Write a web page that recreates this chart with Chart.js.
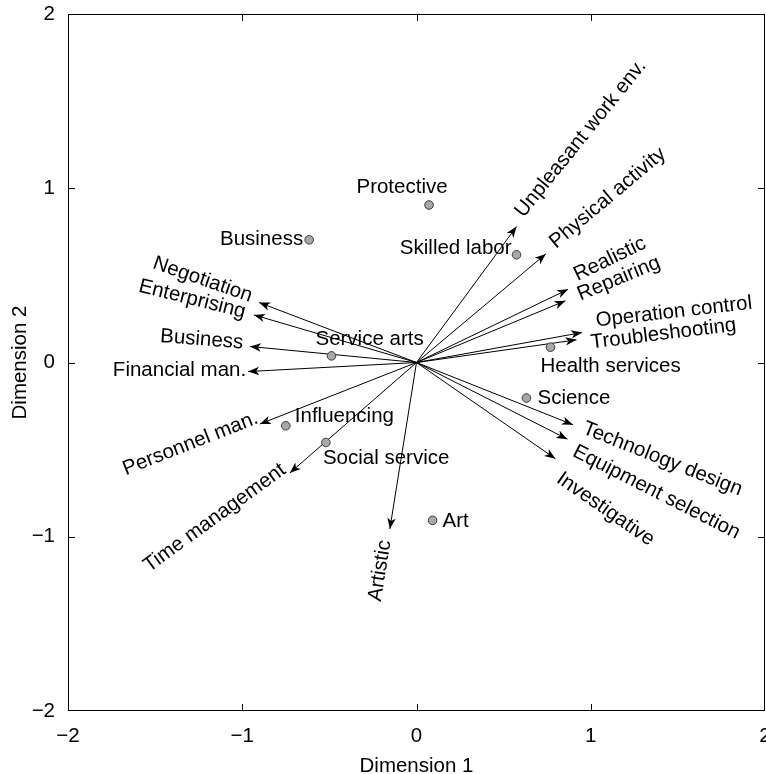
<!DOCTYPE html>
<html>
<head>
<meta charset="utf-8">
<script src="https://cdn.jsdelivr.net/npm/chart.js@4.4.1/dist/chart.umd.min.js"></script>
<style>
  html, body { margin: 0; padding: 0; background: #fff; }
</style>
</head>
<body>
<canvas id="chart-biplot" width="766" height="774"></canvas>
<script>
// variable vectors (arrow tips, origin at 0,0)
const vectorNames = [
  'Unpleasant work env.', 'Physical activity', 'Realistic', 'Repairing',
  'Operation control', 'Troubleshooting', 'Technology design', 'Equipment selection',
  'Investigative', 'Artistic', 'Time management', 'Personnel man.',
  'Financial man.', 'Business', 'Enterprising', 'Negotiation'
];
const vectorX = [0.574, 0.742, 0.870, 0.855, 0.950, 0.918, 0.898, 0.866, 0.797, -0.153, -0.727, -0.899, -0.966, -0.956, -0.933, -0.903];
const vectorY = [0.780, 0.623, 0.420, 0.354, 0.172, 0.130, -0.357, -0.440, -0.552, -0.955, -0.634, -0.353, -0.052, 0.092, 0.273, 0.344];

// occupation groups (grey points)
const pointNames = ['Protective', 'Business', 'Skilled labor', 'Service arts', 'Health services', 'Science', 'Influencing', 'Social service', 'Art'];
const pointX = [0.072, -0.616, 0.574, -0.488, 0.769, 0.631, -0.750, -0.520, 0.092];
const pointY = [0.904, 0.704, 0.618, 0.038, 0.088, -0.204, -0.363, -0.459, -0.906];

const xTickLabels = ['\u22122', '\u22121', '0', '1', '2'];
const yTickLabels = ['\u22122', '\u22121', '0', '1', '2'];

/* ================= layout of the text ================= */

const FONT = 'Liberation Sans, Arial, Helvetica, sans-serif';
const FONT_SIZE = 20.5;

// where each point label sits, in pixels from its point
const pointLabelPos = [
  { dx: -27, dy: -18, align: 'center' },
  { dx: -6, dy: 0, align: 'right' },
  { dx: -5, dy: -6, align: 'right' },
  { dx: -16, dy: -17, align: 'left' },
  { dx: -10, dy: 19, align: 'left' },
  { dx: 11, dy: 0, align: 'left' },
  { dx: 9, dy: -9, align: 'left' },
  { dx: -3, dy: 16, align: 'left' },
  { dx: 10, dy: 1, align: 'left' }
];

// arrow labels: [gap past the tip, sideways shift] in pixels
const vectorLabelPlace = {
  'Unpleasant work env.': [11, -5],
  'Physical activity': [11, -3],
  'Realistic': [12, -9],
  'Repairing': [14, 0],
  'Operation control': [15, -9],
  'Troubleshooting': [14, 5],
  'Technology design': [11, -1],
  'Equipment selection': [11, 7],
  'Investigative': [13, 13],
  'Artistic': [12, -3],
  'Time management': [2, -8],
  'Personnel man.': [0, -7],
  'Financial man.': [2, -1],
  'Business': [7, -3],
  'Enterprising': [9, 0],
  'Negotiation': [9, -3]
};

// labels whose slant differs from their arrow (degrees, reading direction)
const vectorLabelAngle = {
  'Unpleasant work env.': 51,
  'Operation control': 6.5,
  'Troubleshooting': 7,
  'Time management': 36,
  'Financial man.': 0,
  'Business': -4.5,
  'Enterprising': -14,
  'Negotiation': -19
};

/* ================= plugin: arrows, labels, frame ================= */

const biplotDecor = {
  id: 'biplotDecor',
  afterDatasetsDraw(chart) {
    const { ctx, scales: { x, y } } = chart;
    const ox = x.getPixelForValue(0);
    const oy = y.getPixelForValue(0);

    ctx.save();
    ctx.fillStyle = '#000';
    ctx.font = FONT_SIZE + 'px ' + FONT;

    vectorNames.forEach((name, i) => {
      let tx = x.getPixelForValue(vectorX[i]);
      let ty = y.getPixelForValue(vectorY[i]);
      let len = Math.hypot(tx - ox, ty - oy);
      let ux = (tx - ox) / len, uy = (ty - oy) / len;

      // arrow head
      let L = 11, W = 4.2, N = 8;
      ctx.beginPath();
      ctx.moveTo(tx, ty);
      ctx.lineTo(tx - L * ux - W * uy, ty - L * uy + W * ux);
      ctx.lineTo(tx - N * ux, ty - N * uy);
      ctx.lineTo(tx - L * ux + W * uy, ty - L * uy - W * ux);
      ctx.closePath();
      ctx.fill();

      // label, turned along the arrow
      let flipped = vectorX[i] < 0;
      let [gap, shift] = vectorLabelPlace[name] || [8, 0];
      let rot = flipped ? Math.atan2(-uy, -ux) : Math.atan2(uy, ux);
      if (name in vectorLabelAngle) rot = -vectorLabelAngle[name] * Math.PI / 180;
      ctx.save();
      ctx.translate(tx + ux * gap, ty + uy * gap);
      ctx.rotate(rot);
      ctx.textAlign = flipped ? 'right' : 'left';
      ctx.textBaseline = 'middle';
      ctx.fillText(name, 0, shift);
      ctx.restore();
    });

    pointNames.forEach((name, i) => {
      let px = x.getPixelForValue(pointX[i]);
      let py = y.getPixelForValue(pointY[i]);
      let pos = pointLabelPos[i];
      ctx.textAlign = pos.align;
      ctx.textBaseline = 'middle';
      ctx.fillText(name, px + pos.dx, py + pos.dy);
    });
    ctx.restore();
  },
  afterDraw(chart) {
    const { ctx, chartArea: { left, right, top, bottom }, scales: { x, y } } = chart;
    ctx.save();
    ctx.strokeStyle = '#000';
    ctx.lineWidth = 1;
    ctx.strokeRect(left + 0.5, top + 0.5, right - left - 1, bottom - top - 1);

    let tick = 7;
    ctx.beginPath();
    [-1, 0, 1].forEach(v => {
      let px = Math.round(x.getPixelForValue(v)) + 0.5;
      ctx.moveTo(px, bottom); ctx.lineTo(px, bottom - tick);
      ctx.moveTo(px, top); ctx.lineTo(px, top + tick);
      let py = Math.round(y.getPixelForValue(v)) + 0.5;
      ctx.moveTo(left, py); ctx.lineTo(left + tick, py);
      ctx.moveTo(right, py); ctx.lineTo(right - tick, py);
    });
    ctx.stroke();
    ctx.restore();
  }
};

/* ================= chart ================= */

let pointsDataset = {
  label: 'Groups',
  data: pointX.map((v, i) => ({ x: v, y: pointY[i] })),
  pointRadius: 4.3,
  pointBackgroundColor: '#a8a8a8',
  pointBorderColor: '#3a3a3a',
  pointBorderWidth: 1,
  showLine: false
};

let vectorDatasets = vectorNames.map((name, i) => ({
  label: name,
  data: [{ x: 0, y: 0 }, { x: vectorX[i], y: vectorY[i] }],
  showLine: true,
  borderColor: '#000',
  borderWidth: 1,
  pointRadius: 0
}));

let tickFont = { family: FONT, size: FONT_SIZE };

let biplotChart = new Chart(document.getElementById('chart-biplot').getContext('2d'), {
  type: 'scatter',
  data: { datasets: [pointsDataset, ...vectorDatasets] },
  options: {
    responsive: false,
    animation: false,
    layout: { autoPadding: false, padding: { top: 14, right: 1, bottom: 0, left: 0 } },
    plugins: { legend: { display: false }, tooltip: { enabled: false } },
    scales: {
      x: {
        type: 'linear', min: -2, max: 2,
        grid: { display: false, drawTicks: false },
        border: { display: false },
        ticks: {
          stepSize: 1, padding: 13, color: '#000', font: tickFont,
          autoSkip: false, maxRotation: 0,
          callback: (v, i) => xTickLabels[i]
        },
        title: {
          display: true, text: 'Dimension 1', color: '#000',
          font: { family: FONT, size: FONT_SIZE, lineHeight: 1 },
          padding: { top: 0, bottom: -3 }
        },
        afterFit: s => { s.height = 63; s.paddingLeft = 0; s.paddingRight = 0; }
      },
      y: {
        type: 'linear', min: -2, max: 2,
        grid: { display: false, drawTicks: false },
        border: { display: false },
        ticks: {
          stepSize: 1, padding: 13, color: '#000', font: tickFont,
          autoSkip: false,
          callback: (v, i) => yTickLabels[i]
        },
        title: { display: true, text: 'Dimension 2', color: '#000', font: tickFont, padding: { top: 8.5, bottom: 0 } },
        afterFit: s => { s.width = 68; s.paddingTop = 0; s.paddingBottom = 0; }
      }
    }
  },
  plugins: [biplotDecor]
});
</script>
</body>
</html>
